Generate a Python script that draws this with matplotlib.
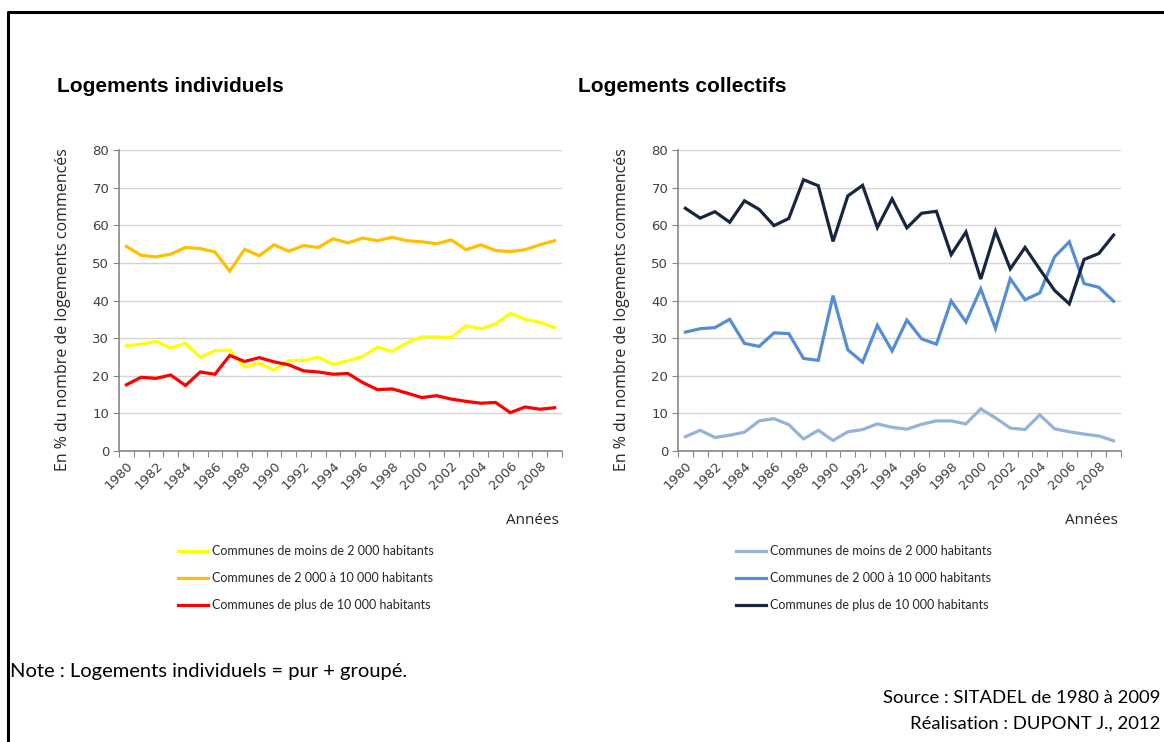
import numpy as np
import matplotlib
matplotlib.use("Agg")
from matplotlib import pyplot as plt
from matplotlib.lines import Line2D

annees = list(range(1980, 2010))

# Logements individuels (%)
ind_moins_2000 = [28.0, 28.4, 29.1, 27.4, 28.6, 24.9, 26.7, 26.8, 22.3, 23.3,
                  21.5, 24.0, 24.1, 24.9, 23.0, 24.0, 25.1, 27.6, 26.5, 28.8,
                  30.3, 30.3, 30.2, 33.3, 32.5, 33.8, 36.6, 35.0, 34.2, 32.8]
ind_2000_10000 = [54.4, 52.0, 51.6, 52.3, 54.1, 53.8, 52.9, 47.8, 53.6, 51.9,
                  54.8, 53.1, 54.6, 54.1, 56.4, 55.3, 56.6, 55.9, 56.8, 55.9,
                  55.6, 55.1, 56.1, 53.5, 54.8, 53.3, 53.0, 53.5, 54.8, 55.9]
ind_plus_10000 = [17.6, 19.6, 19.3, 20.2, 17.4, 21.0, 20.4, 25.4, 23.8, 24.8,
                  23.7, 22.9, 21.3, 21.0, 20.4, 20.6, 18.2, 16.3, 16.5, 15.4,
                  14.2, 14.7, 13.8, 13.2, 12.7, 12.9, 10.2, 11.7, 11.1, 11.5]

# Logements collectifs (%)
col_moins_2000 = [3.8, 5.5, 3.6, 4.2, 5.0, 8.0, 8.6, 7.0, 3.2, 5.5,
                  2.8, 5.1, 5.7, 7.2, 6.3, 5.8, 7.1, 8.0, 8.0, 7.2,
                  11.2, 8.8, 6.1, 5.7, 9.6, 5.9, 5.1, 4.5, 4.0, 2.7]
col_2000_10000 = [31.6, 32.5, 32.8, 35.0, 28.6, 27.8, 31.4, 31.2, 24.6, 24.1,
                  41.3, 26.9, 23.6, 33.4, 26.6, 34.8, 29.8, 28.4, 39.9, 34.3,
                  43.1, 32.6, 45.8, 40.2, 42.0, 51.6, 55.6, 44.5, 43.5, 39.8]
col_plus_10000 = [64.5, 61.9, 63.6, 60.8, 66.5, 64.2, 59.9, 61.8, 72.1, 70.5,
                  55.7, 67.8, 70.6, 59.4, 67.0, 59.3, 63.2, 63.7, 52.2, 58.2,
                  45.7, 58.4, 48.4, 54.1, 48.3, 42.7, 39.1, 50.9, 52.5, 57.4]

noms = ["Communes de moins de 2 000 habitants",
        "Communes de 2 000 à 10 000 habitants",
        "Communes de plus de 10 000 habitants"]

couleurs_ind = ["#FFFF00", "#FFC000", "#FF0000"]
couleurs_col = ["#95B3D7", "#558ED5", "#17263F"]

fig = plt.figure(figsize=(11.64, 7.42), dpi=100)
W, H = 1164, 742


def fx(px):
    return px / W


def fy(py):
    return 1 - py / H


def graphique(left_px, titre, titre_x, series, couleurs, leg_x):
    ax = fig.add_axes([fx(left_px), fy(451), fx(443), 301 / H])
    x = np.arange(len(annees))
    for s, c in zip(series, couleurs):
        ax.plot(x, s, color=c, lw=2.3, solid_joinstyle="miter", zorder=3)
    ax.set_xlim(-0.5, len(annees) - 0.5)
    ax.set_ylim(0, 80)
    ax.set_yticks(range(0, 81, 10))
    ax.grid(axis="y", color="#D4D4D4", lw=1)
    ax.set_axisbelow(True)
    for sp in ["top", "right"]:
        ax.spines[sp].set_visible(False)
    for sp in ["left", "bottom"]:
        ax.spines[sp].set_color("#868686")
        ax.spines[sp].set_linewidth(1.2)
    # graduations entre les années, étiquettes une année sur deux
    ax.set_xticks(np.arange(-0.5, len(annees)), labels=[])
    ax.set_xticks(x[::2], labels=[str(a) for a in annees[::2]], minor=True)
    ax.tick_params(axis="x", which="major", length=4, color="#868686", direction="out")
    ax.tick_params(axis="x", which="minor", length=0, pad=6)
    ax.tick_params(axis="y", length=4, color="#868686", labelsize=9.5,
                   labelcolor="#404040", pad=3)
    for lab in ax.get_xticklabels(minor=True):
        lab.set_rotation(45)
        lab.set_ha("right")
        lab.set_va("top")
        lab.set_rotation_mode("anchor")
        lab.set_fontsize(9.5)
        lab.set_color("#404040")
    fig.text(fx(titre_x), fy(86), titre, fontsize=15, fontweight="bold",
             family="Liberation Sans", va="center", ha="left")
    fig.text(fx(left_px - 56), fy(310), "En % du nombre de logements commencés",
             rotation=90, fontsize=11.5, family="Open Sans", color="#262626",
             ha="center", va="center")
    fig.text(fx(left_px + 440), fy(520), "Années", fontsize=11, family="Open Sans",
             color="#262626", ha="right", va="center")
    # légende dessinée à la main
    for i, (nom, c) in enumerate(zip(noms, couleurs)):
        y = fy(551 + 27 * i)
        fig.add_artist(Line2D([fx(leg_x), fx(leg_x + 30)], [y, y], color=c, lw=2.3))
        fig.text(fx(leg_x + 34), y, nom, fontsize=9, family="Lato",
                 color="#262626", va="center", ha="left")
    return ax


graphique(119, "Logements individuels", 57,
          [ind_moins_2000, ind_2000_10000, ind_plus_10000], couleurs_ind, 178)
graphique(678, "Logements collectifs", 578,
          [col_moins_2000, col_2000_10000, col_plus_10000], couleurs_col, 736)

# cadre (bords haut et gauche)
fig.add_artist(Line2D([fx(8), fx(8), 1.0], [0.0, fy(12), fy(12)],
                      color="black", lw=2.2))

fig.text(fx(10), fy(672), "Note : Logements individuels = pur + groupé.",
         fontsize=14.5, family="Lato", va="center", ha="left")
fig.text(fx(1160), fy(698), "Source : SITADEL de 1980 à 2009",
         fontsize=13.3, family="Lato", va="center", ha="right")
fig.text(fx(1160), fy(724), "Réalisation : DUPONT J., 2012",
         fontsize=13.3, family="Lato", va="center", ha="right")

fig.savefig("out.png", dpi=100, facecolor="white")
